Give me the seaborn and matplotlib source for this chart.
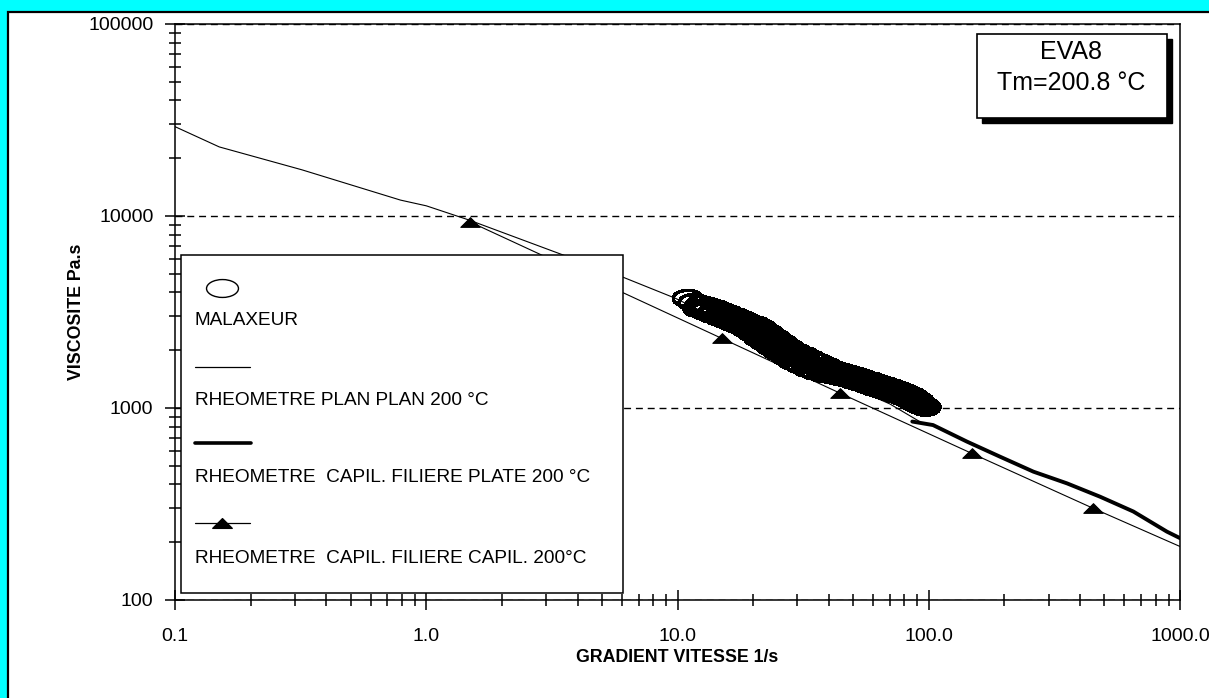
import matplotlib
matplotlib.use("Agg")
import matplotlib.pyplot as plt
import numpy as np
import seaborn as sns
from matplotlib import font_manager
from matplotlib.lines import Line2D
from matplotlib.markers import MarkerStyle
from matplotlib.patches import Rectangle
from matplotlib.path import Path
from matplotlib.ticker import LogLocator, NullFormatter

# ── data ────────────────────────────────────────────────────────────────
plan_x = [0.1, 0.15, 0.32, 0.79, 1.0, 1.49, 3.5, 6.07, 9.8, 20.0, 40.0, 70.0, 92.0]
plan_y = [29200, 22900, 17400, 12100, 11300, 9500, 6270, 4800, 3730, 2350, 1450, 1050, 850]

plate_x = [86, 104, 142, 192, 261, 355, 481, 652, 887, 1000]
plate_y = [850, 815, 668, 558, 466, 405, 345, 289, 227, 210]

capil_x = [1.49, 15.0, 44.4, 148, 452, 1000]
capil_y = [9330, 2305, 1194, 581, 300, 190]
capil_marked = [0, 1, 2, 3, 4]

malax_x = [11.0, 11.6, 12.1, 12.4, 12.9, 13.3, 13.8, 14.2, 14.7, 15.1, 15.6, 16.0,
           16.6, 17.1, 17.6, 18.1, 18.7, 19.3, 19.9, 20.5, 21.1, 21.7, 22.4, 23.0,
           23.8, 24.6, 25.4, 26.2, 27.1, 28.0, 28.9, 29.8, 30.9, 31.9, 33.0, 34.1,
           35.3, 36.5, 37.8, 39.1, 40.5, 41.9, 43.4, 44.9, 46.5, 48.1, 49.8, 51.5,
           53.3, 55.1, 57.0, 58.9, 60.9, 62.9, 65.0, 67.1, 69.3, 71.5, 73.8, 76.1,
           78.5, 80.9, 83.4, 85.9, 88.4, 90.9, 93.4, 95.7,
           12.7, 14.0, 15.3, 16.3, 17.4, 18.4, 19.6, 20.8, 22.0, 23.4, 25.0, 26.6,
           28.4, 30.3, 32.4, 34.7, 37.1, 39.8, 42.6, 45.7, 49.0, 52.4, 56.0, 59.9,
           64.0, 68.2, 72.6, 77.3, 82.1, 87.1, 92.1, 97.0]
malax_y = [3720, 3540, 3300, 3450, 3190, 3370, 3080, 3280, 2980, 3170, 2890, 3080,
           2790, 2980, 2710, 2890, 2600, 2770, 2460, 2700, 2320, 2590, 2200, 2450,
           2080, 2300, 1960, 2170, 1850, 2040, 1750, 1950, 1680, 1870, 1610, 1790,
           1560, 1720, 1520, 1650, 1500, 1580, 1470, 1540, 1440, 1500, 1400, 1460,
           1365, 1420, 1325, 1380, 1285, 1340, 1250, 1305, 1215, 1270, 1185, 1235,
           1150, 1195, 1115, 1150, 1065, 1090, 1030, 1025,
           3310, 3180, 3030, 2930, 2840, 2750, 2620, 2510, 2390, 2260, 2120, 2005,
           1890, 1810, 1730, 1665, 1610, 1560, 1520, 1485, 1445, 1410, 1370, 1330,
           1292, 1258, 1225, 1190, 1155, 1105, 1055, 1010]

xtick_vals = [0.1, 1, 10, 100, 1000]
xtick_labels = ["0.1", "1.0", "10.0", "100.0", "1000.0"]
ytick_vals = [100, 1000, 10000, 100000]
ytick_labels = ["100", "1000", "10000", "100000"]

legend_labels = [
    "MALAXEUR",
    "RHEOMETRE PLAN PLAN 200 °C",
    "RHEOMETRE  CAPIL. FILIERE PLATE 200 °C",
    "RHEOMETRE  CAPIL. FILIERE CAPIL. 200°C",
]
info_lines = ["EVA8", "Tm=200.8 °C"]

# ── style ───────────────────────────────────────────────────────────────
sns.set_theme(style="white")
plt.rcParams["font.family"] = ["Liberation Sans", "DejaVu Sans"]
for key in ("text.color", "axes.labelcolor", "xtick.color", "ytick.color"):
    plt.rcParams[key] = "black"

installed = {f.name for f in font_manager.fontManager.ttflist}
if "Liberation Sans Narrow" in installed:
    label_font, label_size = ["Liberation Sans Narrow", "DejaVu Sans"], 15.5
else:
    label_font, label_size = ["Liberation Sans", "DejaVu Sans"], 12.8

# custom markers: flat ellipse and squat triangle
circ = Path.unit_circle()
ellipse = MarkerStyle(Path(circ.vertices * np.array([1.0, 0.56]), circ.codes))
tri = MarkerStyle(Path([(-1, -0.5), (1, -0.5), (0, 0.5), (-1, -0.5)],
                       [Path.MOVETO, Path.LINETO, Path.LINETO, Path.CLOSEPOLY]))

W, H = 1209, 698
fig = plt.figure(figsize=(W / 100, H / 100), dpi=100, facecolor="#00FFFF")
fig.add_artist(Rectangle((8 / W, -0.05), 1.1, (H - 12) / H + 0.05,
                         transform=fig.transFigure, fc="white", ec="black",
                         lw=1.6, zorder=0))
ax = fig.add_axes([175 / W, 1 - 600 / H, 1005 / W, 576 / H])
ax.set_facecolor("white")
ax.set_xscale("log")
ax.set_yscale("log")

# ── series ──────────────────────────────────────────────────────────────
sns.lineplot(x=plan_x, y=plan_y, ax=ax, color="black", lw=0.8,
             estimator=None, sort=False, zorder=2)
sns.lineplot(x=capil_x, y=capil_y, ax=ax, color="black", lw=0.8,
             estimator=None, sort=False, marker=tri, markersize=14,
             markevery=capil_marked, mfc="black", mec="black", zorder=2)
sns.lineplot(x=plate_x, y=plate_y, ax=ax, color="black", lw=2.8,
             estimator=None, sort=False, zorder=2.5)
sns.scatterplot(x=malax_x, y=malax_y, ax=ax, marker=ellipse, s=21 ** 2,
                linewidth=1.8, zorder=3)
band = ax.collections[-1]
band.set_facecolor("none")
band.set_edgecolor("black")
band.set_antialiased(False)

# ── axes ────────────────────────────────────────────────────────────────
ax.set_xlim(0.1, 1000)
ax.set_ylim(100, 100000)
ax.set_xticks(xtick_vals, labels=xtick_labels)
ax.set_yticks(ytick_vals, labels=ytick_labels)
for axis in (ax.xaxis, ax.yaxis):
    axis.set_minor_locator(LogLocator(base=10, subs=np.arange(2, 10) * 1.0, numticks=20))
    axis.set_minor_formatter(NullFormatter())
ax.tick_params(which="major", direction="inout", length=15, width=1.1,
               labelsize=14, left=True, bottom=True, top=False, right=False)
ax.tick_params(which="minor", direction="inout", length=8, width=1.1,
               left=True, bottom=True, top=False, right=False)
ax.tick_params(axis="x", which="major", pad=13)
ax.tick_params(axis="y", which="major", pad=8)
for sp in ax.spines.values():
    sp.set_color("black")
    sp.set_linewidth(1.1)

ax.grid(False)
ax.yaxis.grid(True, which="major", color="black", lw=1.0, ls=(0, (5, 3.5)))

ax.set_xlabel("GRADIENT VITESSE 1/s", fontsize=label_size, fontweight="bold",
              family=label_font)
ax.xaxis.set_label_coords(0.5, -0.085)
ax.set_ylabel("VISCOSITE Pa.s", fontsize=label_size, fontweight="bold",
              family=label_font)
ax.yaxis.set_label_coords(-0.09, 0.5)

# ── legend box (handle drawn above its label) ──────────────────────────
ax.add_patch(Rectangle((0.006, 0.012), 0.4398, 0.587, transform=ax.transAxes,
                       fc="white", ec="black", lw=1.1, zorder=5))
ax.add_line(Line2D([0.0468], [0.5417], transform=ax.transAxes, ls="none",
                   marker=ellipse, ms=23, mfc="none", mec="black", mew=1.0,
                   zorder=6))
ax.add_line(Line2D([0.0199, 0.0746], [0.4045, 0.4045], transform=ax.transAxes,
                   color="black", lw=0.9, zorder=6))
ax.add_line(Line2D([0.0199, 0.0756], [0.2726, 0.2726], transform=ax.transAxes,
                   color="black", lw=2.6, zorder=6))
ax.add_line(Line2D([0.0199, 0.0746], [0.1337, 0.1337], transform=ax.transAxes,
                   color="black", lw=0.9, zorder=6))
ax.add_line(Line2D([0.0468], [0.1337], transform=ax.transAxes, ls="none",
                   marker=tri, ms=14, mfc="black", mec="black", zorder=6))
for label, ypos in zip(legend_labels, [0.486, 0.347, 0.2135, 0.0729]):
    ax.text(0.0199, ypos, label, transform=ax.transAxes, ha="left",
            va="center", fontsize=13.7, zorder=6)

# ── EVA8 info box with drop shadow ─────────────────────────────────────
fig.add_artist(Rectangle((982 / W, 1 - 123 / H), 190 / W, 84 / H,
                         transform=fig.transFigure, fc="black", ec="black",
                         zorder=7))
fig.add_artist(Rectangle((977 / W, 1 - 118 / H), 190 / W, 84 / H,
                         transform=fig.transFigure, fc="white", ec="black",
                         lw=1.2, zorder=8))
for line, ypix in zip(info_lines, [52, 83]):
    fig.text(1071 / W, 1 - ypix / H, line, ha="center", va="center",
             fontsize=18, zorder=9)

fig.savefig("out.png", dpi=100, facecolor=fig.get_facecolor())
plt.close(fig)
